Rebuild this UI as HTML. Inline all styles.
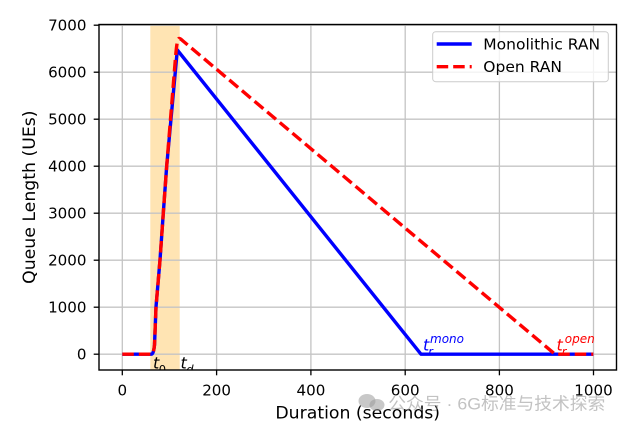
<!DOCTYPE html>
<html>
<head>
<meta charset="utf-8">
<style>
html,body{margin:0;padding:0;background:#fff;}
svg{display:block;}
text{font-family:"DejaVu Sans","Liberation Sans",sans-serif;}
</style>
</head>
<body>
<svg width="626" height="429" viewBox="0 0 626 429" xmlns="http://www.w3.org/2000/svg">
<defs>
<clipPath id="ax"><rect x="99" y="24.5" width="517.5" height="345.5"/></clipPath>
</defs>
<rect x="0" y="0" width="626" height="429" fill="#fff"/>
<!-- shaded region -->
<rect x="150.3" y="24.5" width="29.4" height="345.5" fill="#ffe4b3"/>
<!-- grid -->
<g stroke="#c4c4c4" stroke-width="1.3">
<line x1="122.3" y1="24.5" x2="122.3" y2="370"/>
<line x1="216.6" y1="24.5" x2="216.6" y2="370"/>
<line x1="310.9" y1="24.5" x2="310.9" y2="370"/>
<line x1="405.2" y1="24.5" x2="405.2" y2="370"/>
<line x1="499.4" y1="24.5" x2="499.4" y2="370"/>
<line x1="593.5" y1="24.5" x2="593.5" y2="370"/>
<line x1="99" y1="354.2" x2="616.5" y2="354.2"/>
<line x1="99" y1="307.2" x2="616.5" y2="307.2"/>
<line x1="99" y1="260.2" x2="616.5" y2="260.2"/>
<line x1="99" y1="213.2" x2="616.5" y2="213.2"/>
<line x1="99" y1="166.2" x2="616.5" y2="166.2"/>
<line x1="99" y1="119.2" x2="616.5" y2="119.2"/>
<line x1="99" y1="72.2" x2="616.5" y2="72.2"/>
<line x1="99" y1="25.2" x2="616.5" y2="25.2"/>
</g>
<g clip-path="url(#ax)">
<!-- blue -->
<path d="M122.3,354.2 L151.5,354.2 Q153.5,354.2 154.5,345 L156,307 L160,260 L163.3,213 L166.7,166 L177.3,50 L421,354.2 L593.3,354.2" fill="none" stroke="#0000ff" stroke-width="3.4" stroke-linejoin="round"/>
<!-- red dashed -->
<path d="M122.3,354.2 L151.5,354.2 Q153.5,354.2 154.5,345 L156,307 L160,260 L163.3,213 L166.7,166 L175.3,60 C176.5,45 177.5,38.5 179,38.5 C180.5,38.5 181.5,39.8 183,41 L555,354.2 L593.3,354.2" fill="none" stroke="#ff0000" stroke-width="3.4" stroke-dasharray="11.5 5" stroke-linejoin="round"/>
<!-- annotations -->
<text x="153" y="368.3" font-size="16" font-style="italic" fill="#000">t</text>
<text x="158.8" y="373.5" font-size="11.5" fill="#000">0</text>
<text x="180.5" y="368.3" font-size="16" font-style="italic" fill="#000">t</text>
<text x="186.3" y="373.5" font-size="11.5" font-style="italic" fill="#000">d</text>
<text x="423" y="350.5" font-size="16" font-style="italic" fill="#0000ff">t</text>
<text x="428.3" y="355.5" font-size="11.5" font-style="italic" fill="#0000ff">r</text>
<text x="430" y="343" font-size="12" font-style="italic" fill="#0000ff">mono</text>
<text x="556.5" y="350.5" font-size="16" font-style="italic" fill="#ff0000">t</text>
<text x="561.8" y="355.5" font-size="11.5" font-style="italic" fill="#ff0000">r</text>
<text x="564.8" y="343" font-size="12" font-style="italic" fill="#ff0000">open</text>
</g>
<!-- spines -->
<rect x="99" y="24.5" width="517.5" height="345.5" fill="none" stroke="#000" stroke-width="1.4"/>
<!-- ticks -->
<g stroke="#000" stroke-width="1.3">
<line x1="122.3" y1="370" x2="122.3" y2="375.3"/>
<line x1="216.6" y1="370" x2="216.6" y2="375.3"/>
<line x1="310.9" y1="370" x2="310.9" y2="375.3"/>
<line x1="405.2" y1="370" x2="405.2" y2="375.3"/>
<line x1="499.4" y1="370" x2="499.4" y2="375.3"/>
<line x1="593.5" y1="370" x2="593.5" y2="375.3"/>
<line x1="93.7" y1="354.2" x2="99" y2="354.2"/>
<line x1="93.7" y1="307.2" x2="99" y2="307.2"/>
<line x1="93.7" y1="260.2" x2="99" y2="260.2"/>
<line x1="93.7" y1="213.2" x2="99" y2="213.2"/>
<line x1="93.7" y1="166.2" x2="99" y2="166.2"/>
<line x1="93.7" y1="119.2" x2="99" y2="119.2"/>
<line x1="93.7" y1="72.2" x2="99" y2="72.2"/>
<line x1="93.7" y1="25.2" x2="99" y2="25.2"/>
</g>
<g font-size="15.1" fill="#000" text-anchor="middle">
<text x="122.3" y="395.5">0</text>
<text x="216.6" y="395.5">200</text>
<text x="310.9" y="395.5">400</text>
<text x="405.2" y="395.5">600</text>
<text x="499.4" y="395.5">800</text>
<text x="593.5" y="395.5">1000</text>
</g>
<g font-size="15.1" fill="#000" text-anchor="end">
<text x="86.5" y="359.7">0</text>
<text x="86.5" y="312.7">1000</text>
<text x="86.5" y="265.7">2000</text>
<text x="86.5" y="218.7">3000</text>
<text x="86.5" y="171.7">4000</text>
<text x="86.5" y="124.7">5000</text>
<text x="86.5" y="77.7">6000</text>
<text x="86.5" y="30.7">7000</text>
</g>
<text x="357.7" y="418.6" font-size="17.3" text-anchor="middle" fill="#000">Duration (seconds)</text>
<text transform="translate(35,197.2) rotate(-90)" font-size="17.3" text-anchor="middle" fill="#000">Queue Length (UEs)</text>
<!-- legend -->
<rect x="432.7" y="31.7" width="175.6" height="50" rx="3" ry="3" fill="#fff" fill-opacity="0.8" stroke="#cccccc" stroke-width="1"/>
<line x1="436.7" y1="44" x2="471.7" y2="44" stroke="#0000ff" stroke-width="3.4"/>
<line x1="436.7" y1="66.7" x2="471.7" y2="66.7" stroke="#ff0000" stroke-width="3.4" stroke-dasharray="11.5 5"/>
<text x="483.3" y="49.4" font-size="15.5" fill="#000">Monolithic RAN</text>
<text x="483.3" y="71.9" font-size="15.5" fill="#000">Open RAN</text>
<!-- watermark -->
<g fill="#9a9a9a" fill-opacity="0.55">
<ellipse cx="367" cy="401" rx="8.5" ry="7"/>
<ellipse cx="377" cy="405" rx="7.5" ry="6"/>
</g>
<text x="388.3" y="409.5" font-size="17" fill="#9a9a9a" fill-opacity="0.6" textLength="217" lengthAdjust="spacingAndGlyphs" style="font-family:'Liberation Sans','Noto Sans CJK SC',sans-serif;">公众号 · 6G标准与技术探索</text>
</svg>
</body>
</html>
